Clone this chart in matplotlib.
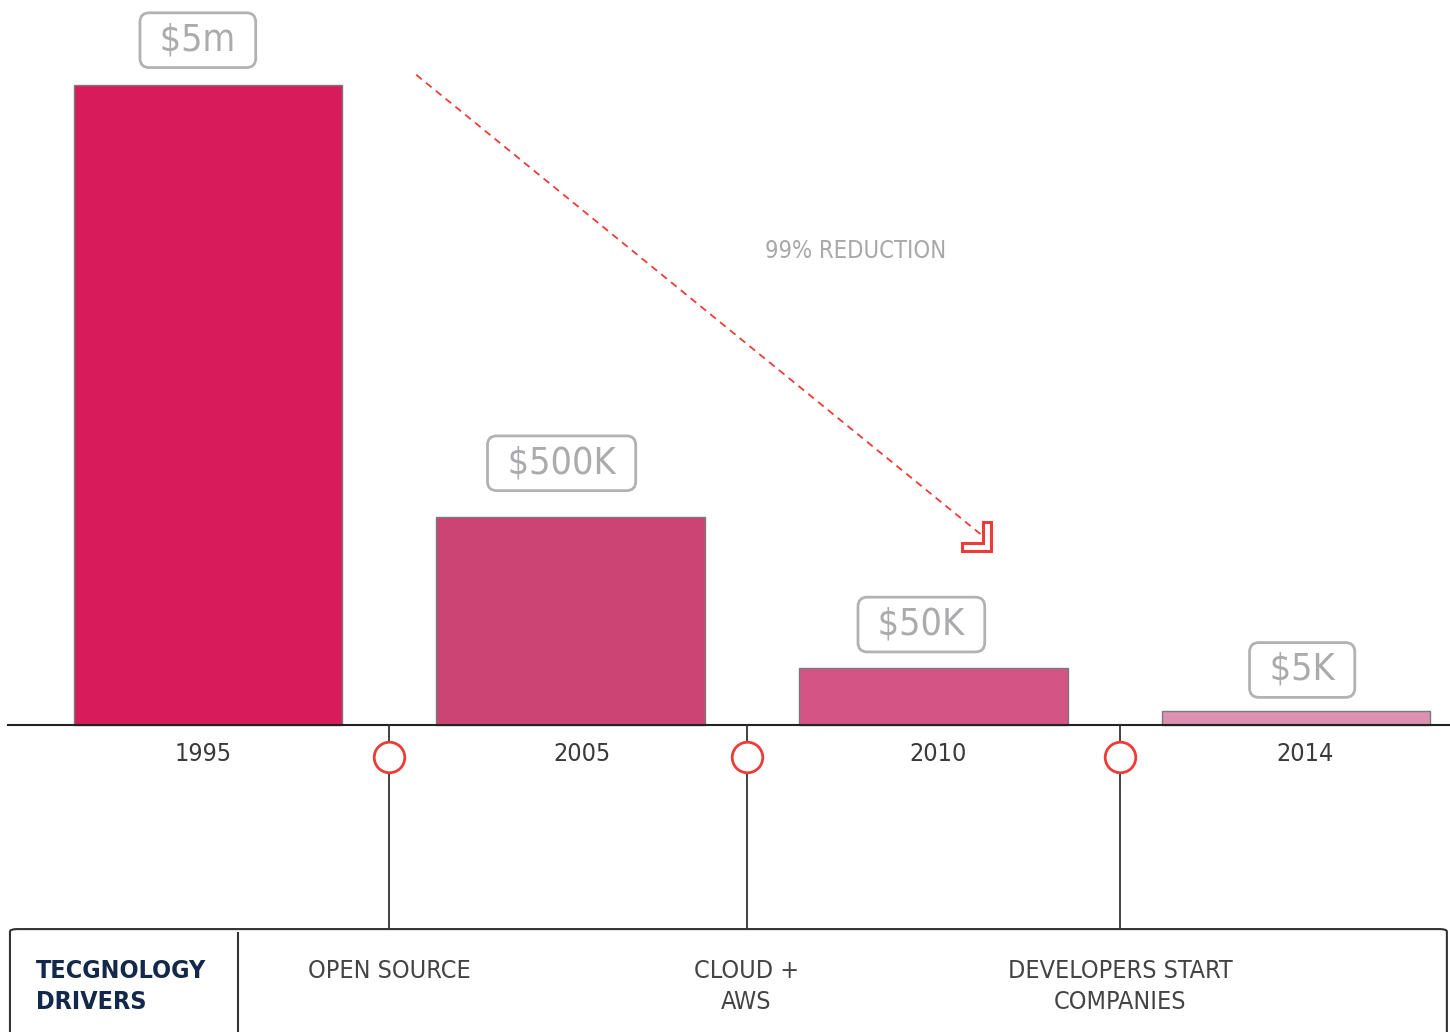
import matplotlib.pyplot as plt
import numpy as np
from matplotlib.patches import FancyBboxPatch, Polygon

plt.rcParams['font.family'] = ['DejaVu Sans']
plt.rcParams['font.stretch'] = 'condensed'

# data
years = ['1995', '2005', '2010', '2014']
cost_labels = ['$5m', '$500K', '$50K', '$5K']
# visual bar heights (not to scale, as in the original graphic)
bar_heights = [5.0, 1.625, 0.445, 0.11]
bar_colors = ['#d81c5b', '#cb4473', '#d45585', '#dd90b0']
driver_pos = [0.5, 1.485, 2.515]
drivers = ['OPEN SOURCE', 'CLOUD +\nAWS', 'DEVELOPERS START\nCOMPANIES']

fig = plt.figure(figsize=(14.5, 10.32), dpi=100)
ax = fig.add_axes([0, 0, 1, 1])
ax.set_xlim(-0.5735, 3.4246)
ax.set_ylim(-2.398, 5.664)
ax.axis('off')

x = np.arange(len(years))
ax.bar(x, bar_heights, width=0.74, color=bar_colors, edgecolor='#7a7a7a', linewidth=1, zorder=3)

# baseline
ax.plot([-0.5515, 3.4246], [0, 0], color='#222222', lw=1.5, zorder=4)

# year labels (slightly off-centre like the original)
year_shift = [-0.014, 0.03, 0.014, 0.025]
for xi, yr, s in zip(x, years, year_shift):
    ax.text(xi + s, -0.23, yr, ha='center', va='center', fontsize=18, color='#3a3a3a')

# value boxes
label_off = [0.35, 0.42, 0.34, 0.32]
label_shift = [-0.028, -0.025, -0.033, 0.017]
for xi, h, lab, off, s in zip(x, bar_heights, cost_labels, label_off, label_shift):
    ax.text(xi + s, h + off, ' ' + lab + ' ', ha='center', va='center', fontsize=27,
            color='#ababae',
            bbox=dict(boxstyle='round,pad=0.25,rounding_size=0.25', fc='white',
                      ec='#b2b2b4', lw=2))

# reduction arrow
ax.plot([0.574, 2.135], [5.08, 1.48], color='#ee3b36', lw=1.3, ls=(0, (4, 3)), zorder=2)
cx, cy = 2.159, 1.36
tw, th = 0.022, 0.062
lx, ly = 0.08, 0.226
L = Polygon([(cx, cy), (cx, cy + ly), (cx - tw, cy + ly), (cx - tw, cy + th),
             (cx - lx, cy + th), (cx - lx, cy)], closed=True, fc='white',
            ec='#ee3b36', lw=2.2, zorder=5)
ax.add_patch(L)
ax.text(1.785, 3.7, '99% REDUCTION', ha='center', va='center', fontsize=17, color='#a8a8ab')

# timeline connectors
for dp in driver_pos:
    ax.plot([dp, dp], [0, -1.594], color='#333333', lw=1.3, zorder=4)
    ax.plot(dp, -0.25, marker='o', ms=22, mfc='white', mec='#ee3b36', mew=2, zorder=5)

# drivers box
box = FancyBboxPatch((-0.546, -2.6), 3.962, 1.006,
                     boxstyle='round,pad=0,rounding_size=0.02', fc='white',
                     ec='#333333', lw=1.5, zorder=3)
ax.add_patch(box)
ax.plot([0.0826, 0.0826], [-1.625, -2.45], color='#333333', lw=1.5, zorder=4)
ax.text(-0.4735, -1.83, 'TECGNOLOGY\nDRIVERS', ha='left', va='top', fontsize=18,
        color='#13294b', fontweight='bold', linespacing=1.35, zorder=5)
for dp, d in zip(driver_pos, drivers):
    ax.text(dp, -1.83, d, ha='center', va='top', fontsize=18, color='#444444',
            linespacing=1.35, zorder=5)

fig.savefig('out.png', dpi=100)
